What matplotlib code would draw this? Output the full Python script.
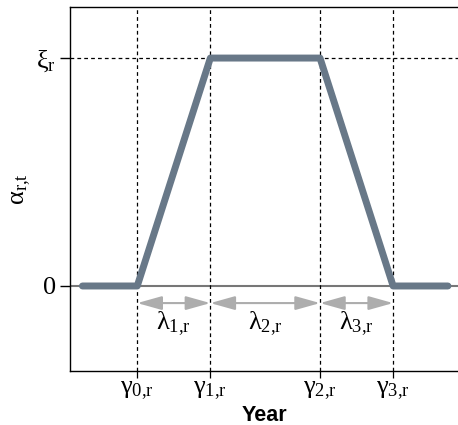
import matplotlib
matplotlib.use("Agg")
import matplotlib.pyplot as plt

# data
gammas = [2, 4, 7, 9]
xi = 1.0
line_x = [0.5, 2, 4, 7, 9, 10.5]
line_y = [0, 0, xi, xi, 0, 0]
gamma_labels = ["γ$_{\\mathrm{0{,}r}}$", "γ$_{\\mathrm{1{,}r}}$", "γ$_{\\mathrm{2{,}r}}$", "γ$_{\\mathrm{3{,}r}}$"]
lambda_labels = ["λ$_{\\mathrm{1{,}r}}$", "λ$_{\\mathrm{2{,}r}}$", "λ$_{\\mathrm{3{,}r}}$"]
ytick_vals = [0, xi]
ytick_labels = ["0", "ξ$_{\\mathrm{r}}$"]

plt.rcParams['mathtext.fontset'] = 'custom'
plt.rcParams['mathtext.rm'] = 'Liberation Serif'
plt.rcParams['mathtext.it'] = 'Liberation Serif:italic'

fig = plt.figure(figsize=(4.58, 4.25), dpi=100)
ax = fig.add_axes([70/458, 54/425, 1 - 70/458 + 0.002, (371-7)/425])

ax.set_xlim(0.16, 10.8)
ax.set_ylim(-0.373, 1.224)

ax.axhline(0, color='#777777', lw=1.5, zorder=1)
ax.axhline(xi, color='black', lw=0.9, ls=(0, (3, 2.5)), zorder=1)
for g in gammas:
    ax.axvline(g, color='black', lw=0.9, ls=(0, (3, 2.5)), zorder=1)

ax.plot(line_x, line_y, color='#687888', lw=5, solid_capstyle='round',
        solid_joinstyle='round', zorder=3)

arrow_y = -0.075
for i in range(3):
    ax.annotate('', xy=(gammas[i+1], arrow_y), xytext=(gammas[i], arrow_y),
                arrowprops=dict(arrowstyle='<|-|>,head_length=1.5,head_width=0.42',
                                color='#adadad', lw=1.5, shrinkA=0, shrinkB=0),
                zorder=2)
    ax.text((gammas[i] + gammas[i+1]) / 2, -0.165, lambda_labels[i],
            ha='center', va='center', fontsize=19, family='Liberation Serif')

ax.set_xticks(gammas)
ax.set_xticklabels(gamma_labels, family='Liberation Serif', fontsize=19)
ax.set_yticks(ytick_vals)
ax.set_yticklabels(ytick_labels, family='Liberation Serif', fontsize=19)
ax.tick_params(axis='x', direction='out', length=5, width=0.9, pad=1)
ax.tick_params(axis='y', direction='out', length=7, width=1.0, pad=3)
ax.yaxis.get_major_ticks()[0].tick1line.set_color('#777777')

ax.spines['right'].set_visible(False)
for s in ['left', 'bottom', 'top']:
    ax.spines[s].set_linewidth(1.0)

ax.set_xlabel('Year', fontsize=15.5, fontweight='bold', family='Liberation Sans', labelpad=2)
ax.set_ylabel('α$_{\\mathrm{r{,}t}}$', fontsize=19, family='Liberation Serif', labelpad=2)

fig.savefig('out.png', dpi=100)
